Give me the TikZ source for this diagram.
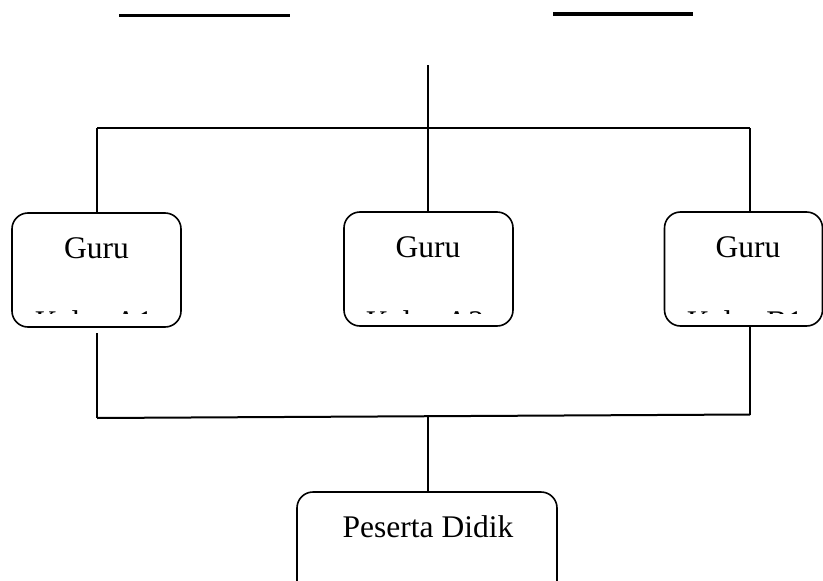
\documentclass[tikz,border=0pt]{standalone}
\usepackage{fontspec}
\setmainfont{Liberation Serif}
\begin{document}
\begin{tikzpicture}[x=1pt,y=-1pt,line width=1.5pt,
  box/.style={draw,rounded corners=16pt,line width=1.6pt,inner sep=0pt},
  lbl/.style={font=\fontsize{31.5}{38}\selectfont,inner sep=0pt},
  conn/.style={line width=1.6pt},
  topline/.style={line width=3pt}]
\useasboundingbox (0,0) rectangle (823,581);
\clip (0,0) rectangle (823,581);
% top short lines
\coordinate (l1a) at (119,15); \coordinate (l1b) at (290,15);
\coordinate (l2a) at (553,14); \coordinate (l2b) at (693,14);
\draw[topline] (l1a) -- (l1b);
\draw[line width=3.6pt] (l2a) -- (l2b);
% boxes
\node[box,minimum width=169pt,minimum height=114pt] (g1) at (96.5,270) {};
\node[box,minimum width=169pt,minimum height=114pt] (g2) at (428.5,269) {};
\node[box,minimum width=158pt,minimum height=114pt] (g3) at (743.5,269) {};
\node[box,minimum width=260pt,minimum height=120pt] (pd) at (427,552) {};
% labels
\node[lbl] (t1) at (96.5,248) {Guru};
\node[lbl] (t2) at (428,247) {Guru};
\node[lbl] (t3) at (748,247) {Guru};
\node[lbl] (tp) at (428,527) {Peserta Didik};
\begin{scope}
  \clip (0,310) rectangle (823,313);
  \node[lbl,anchor=north] (k1) at (94,310) {Kelas A1};
  \node[lbl,anchor=north] (k2) at (425,310) {Kelas A2};
  \node[lbl,anchor=north] (k3) at (745,310) {Kelas B1};
\end{scope}
% top connectors
\coordinate (top) at (428,65);
\coordinate (busL) at (97,128);
\coordinate (busM) at (428,128);
\coordinate (busR) at (750,128);
\draw[conn] (top) -- (busM);
\draw[line width=2.2pt] (busL) -- (busR);
\draw[conn] (busL) -- (busL |- g1.north);
\draw[conn] (busM) -- (busM |- g2.north);
\draw[conn] (busR) -- (busR |- g3.north);
% bottom connectors
\coordinate (bL) at (97,418);
\coordinate (bM) at (428,416.5);
\coordinate (bR) at (750,414.5);
\coordinate (gL) at (97,333);
\draw[conn] (gL) -- (bL);
\draw[conn] (g3.south -| bR) -- (bR);
\draw[line width=2pt] (bL) -- (bR);
\draw[conn] (bM) -- (bM |- pd.north);
\end{tikzpicture}
\end{document}
